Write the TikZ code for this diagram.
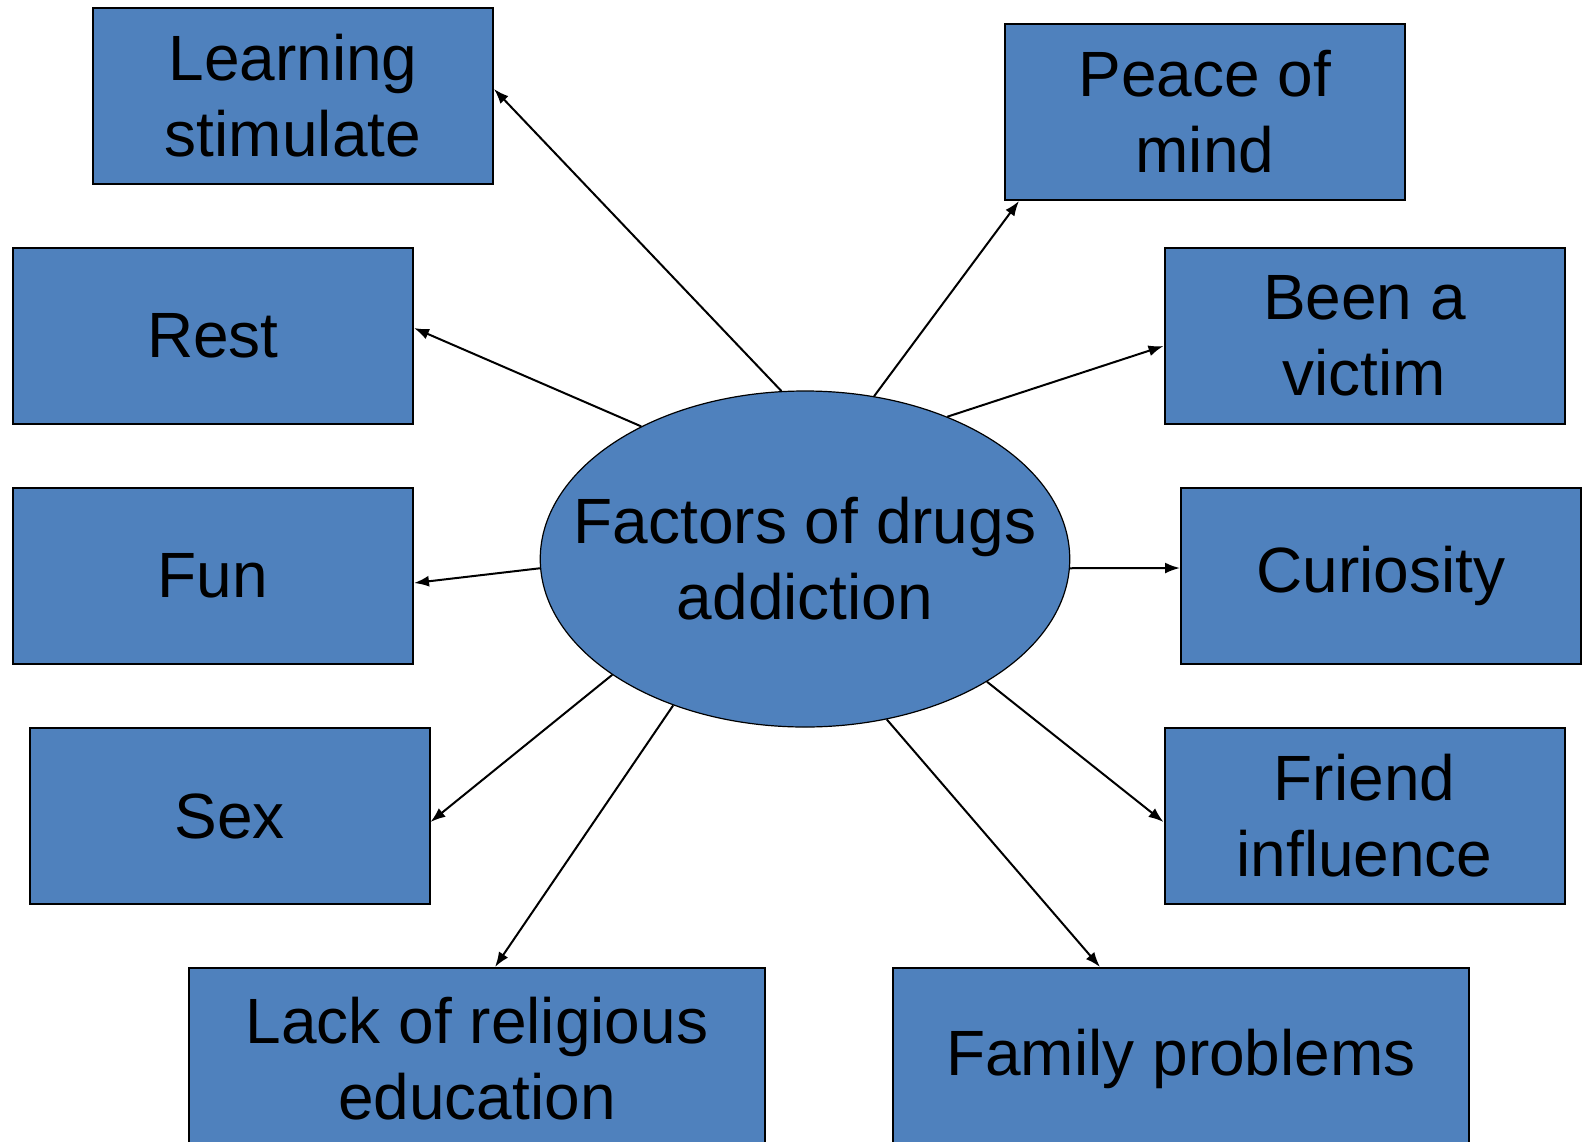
\documentclass[tikz,border=0pt]{standalone}
\usepackage{fontspec}
\setmainfont{Liberation Sans}
\usepackage{tikz}
\usetikzlibrary{shapes.geometric, arrows.meta, positioning}
\usepackage{xcolor}
\definecolor{boxblue}{HTML}{4F81BD}

\begin{document}
\begin{tikzpicture}[
    x=0.5pt, y=-0.5pt,
    factor/.style={rectangle, draw=black, line width=1pt, fill=boxblue, minimum height=88pt, minimum width=200pt, align=center}, % blue boxes
    widefactor/.style={factor, minimum width=288pt, minimum height=91pt},
    centre/.style={ellipse, draw=black, line width=0.6pt, fill=boxblue, minimum width=264pt, minimum height=168pt, inner xsep=-22pt, inner ysep=0pt, align=center},
    arrow/.style={-{Latex[length=7.5pt, width=5.5pt]}, line width=1pt},
    every node/.append style={font=\fontsize{32}{38}\selectfont}
]
\clip (0,0) rectangle (1585,1141);

% Centre: the main topic
\node[centre] (factors) at (805,559) {Factors of drugs\\addiction};

% Left column
\node[factor] (learn) at (293,96)   {Learning\\stimulate};
\node[factor] (rest)  at (213,336)  {Rest};
\node[factor] (fun)   at (213,576)  {Fun};
\node[factor] (sex)   at (229.5,816) {Sex};

% Right column
\node[factor] (peace)  at (1205,112)   {Peace of\\mind};
\node[factor] (victim) at (1364.5,336) {Been a\\victim};
\node[factor] (curio)  at (1381,576)   {Curiosity};
\node[factor] (friend) at (1364.5,816) {Friend\\influence};

% Bottom row
\node[widefactor] (lack)   at (477,1059)  {Lack of religious\\education};
\node[widefactor] (family) at (1181,1059) {Family problems};

% Arrows from the centre to each factor
\draw[arrow] (factors.98.5)  -- ([yshift=3.5pt]learn.east);
\draw[arrow] (factors.141)   -- ([yshift=4pt]rest.east);
\draw[arrow] (factors.182)   -- ([yshift=-3.5pt]fun.east);
\draw[arrow] (factors.211)   -- ([yshift=-3pt]sex.east);
\draw[arrow] (factors.228.6) -- ([xshift=9pt]lack.north);
\draw[arrow] (factors.297.5) -- ([xshift=-40.5pt]family.north);
\draw[arrow] (factors.326)   -- ([yshift=-3pt]friend.west);
\draw[arrow] (factors.358)   -- ([yshift=4pt]curio.west);
\draw[arrow] (factors.45)    -- ([yshift=-5pt]victim.west);
\draw[arrow] (factors.67)    -- ([xshift=7.5pt]peace.south west);

\end{tikzpicture}
\end{document}
